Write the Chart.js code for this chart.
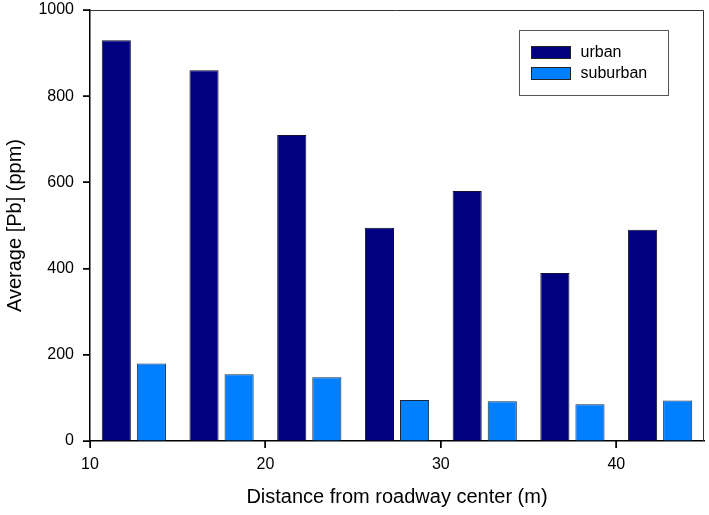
<!DOCTYPE html>
<html>
<head>
<meta charset="utf-8">
<script src="https://cdn.jsdelivr.net/npm/chart.js@4"></script>
<style>
  html, body { margin: 0; padding: 0; background: #fff; }
  #wrap { width: 709px; height: 515px; }
</style>
</head>
<body>
<div id="wrap"><canvas id="c" width="709" height="515"></canvas></div>
<script>
const distances = [12.5, 17.5, 22.5, 27.5, 32.5, 37.5, 42.5];
const urban = [930, 860, 710, 495, 580, 390, 490];
const suburban = [180, 155, 148, 95, 92, 85, 94];
const xTicks = [10, 20, 30, 40];
const yTicks = [0, 200, 400, 600, 800, 1000];
const seriesNames = ['urban', 'suburban'];

const FONT = "'Liberation Sans', Arial, Helvetica, sans-serif";
const TICK_LEN = 7;

const framePlugin = {
  id: 'frame',
  afterDraw(chart) {
    const { ctx, chartArea: a, scales } = chart;
    ctx.save();
    ctx.lineWidth = 1;
    ctx.strokeStyle = '#333';
    ctx.beginPath();
    ctx.moveTo(a.left, a.top + 0.5);
    ctx.lineTo(a.right - 0.5, a.top + 0.5);
    ctx.lineTo(a.right - 0.5, a.bottom);
    ctx.stroke();
    ctx.strokeStyle = '#000';
    ctx.lineWidth = 1.5;
    ctx.beginPath();
    scales.x.ticks.forEach(t => {
      const px = Math.round(scales.x.getPixelForValue(t.value));
      ctx.moveTo(px, a.bottom);
      ctx.lineTo(px, a.bottom + TICK_LEN);
    });
    scales.y.ticks.forEach(t => {
      const py = Math.round(scales.y.getPixelForValue(t.value));
      ctx.moveTo(a.left - TICK_LEN, py);
      ctx.lineTo(a.left, py);
    });
    ctx.stroke();
    ctx.restore();
  }
};

const boxLegend = {
  id: 'boxLegend',
  afterDraw(chart) {
    const { ctx, chartArea: a } = chart;
    const bx = a.right - 184.5, by = a.top + 20.5, bw = 149, bh = 65;
    ctx.save();
    ctx.fillStyle = '#fff';
    ctx.fillRect(bx, by, bw, bh);
    ctx.strokeStyle = '#555';
    ctx.lineWidth = 1;
    ctx.strokeRect(bx, by, bw, bh);
    ctx.font = '16px ' + FONT;
    ctx.textBaseline = 'middle';
    ctx.textAlign = 'left';
    chart.data.datasets.forEach((ds, i) => {
      const sy = by + 16 + i * 21;
      ctx.fillStyle = ds.backgroundColor;
      ctx.fillRect(bx + 12, sy, 39, 12);
      ctx.strokeStyle = '#222';
      ctx.strokeRect(bx + 12, sy, 39, 12);
      ctx.fillStyle = '#000';
      ctx.fillText(ds.label, bx + 61, sy + 6.5);
    });
    ctx.restore();
  }
};

new Chart(document.getElementById('c'), {
  type: 'bar',
  data: {
    datasets: [
      {
        label: seriesNames[0],
        data: distances.map((d, i) => ({ x: d, y: urban[i] })),
        backgroundColor: '#000080',
        borderColor: '#111133',
        borderWidth: 1
      },
      {
        label: seriesNames[1],
        data: distances.map((d, i) => ({ x: d, y: suburban[i] })),
        backgroundColor: '#0080ff',
        borderColor: '#1a2a44',
        borderWidth: 1
      }
    ]
  },
  options: {
    responsive: false,
    animation: false,
    devicePixelRatio: 1,
    categoryPercentage: 0.8,
    barPercentage: 0.83,
    layout: { padding: { top: 10, right: 5, left: 0, bottom: 0 } },
    plugins: {
      legend: { display: false },
      tooltip: { enabled: false }
    },
    scales: {
      x: {
        type: 'linear',
        offset: false,
        min: 10,
        max: 45,
        afterBuildTicks: s => { s.ticks = xTicks.map(v => ({ value: v })); },
        afterFit: s => { s.height = 74; s.paddingLeft = 0; s.paddingRight = 0; },
        ticks: { font: { size: 16, family: FONT }, color: '#000', padding: 7, callback: v => String(v) },
        grid: { offset: false, display: true, drawOnChartArea: false, drawTicks: true, tickLength: TICK_LEN, color: '#000', lineWidth: 1 },
        border: { display: true, color: '#000', width: 1.5 },
        title: {
          display: true,
          text: 'Distance from roadway center (m)',
          font: { size: 20, family: FONT },
          color: '#000',
          padding: { top: 0, bottom: 6 }
        }
      },
      y: {
        min: 0,
        max: 1000,
        afterBuildTicks: s => { s.ticks = yTicks.map(v => ({ value: v })); },
        afterFit: s => { s.width = 90; s.paddingTop = 0; s.paddingBottom = 0; },
        ticks: { font: { size: 16, family: FONT }, color: '#000', padding: 9, callback: v => String(v) },
        grid: { display: true, drawOnChartArea: false, drawTicks: true, tickLength: TICK_LEN, color: '#000', lineWidth: 1 },
        border: { display: true, color: '#000', width: 1.5 },
        title: {
          display: true,
          text: 'Average [Pb] (ppm)',
          font: { size: 20, family: FONT },
          color: '#000',
          padding: { top: 3, bottom: 0 }
        }
      }
    }
  },
  plugins: [framePlugin, boxLegend]
});
</script>
</body>
</html>
